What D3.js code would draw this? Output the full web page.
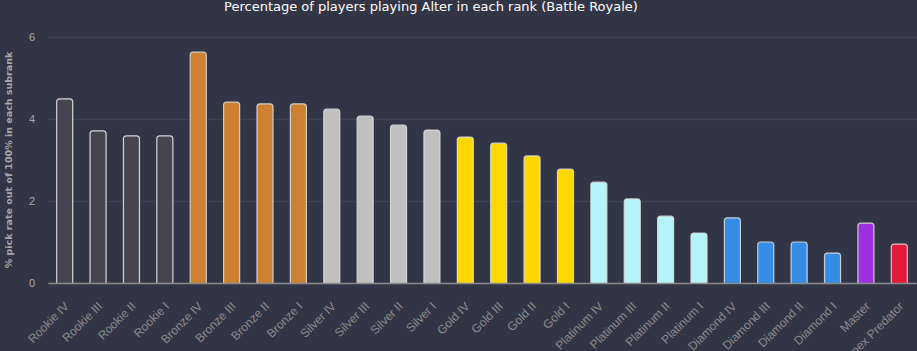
<!DOCTYPE html>
<html>
<head>
<meta charset="utf-8">
<script src="https://cdn.jsdelivr.net/npm/d3@7"></script>
<style>
  body { margin: 0; background: #323546; }
  svg { display: block; font-family: "DejaVu Sans", sans-serif; }
</style>
</head>
<body>
<svg width="917" height="351"></svg>
<script>
const ranks = ['Rookie IV','Rookie III','Rookie II','Rookie I',
  'Bronze IV','Bronze III','Bronze II','Bronze I',
  'Silver IV','Silver III','Silver II','Silver I',
  'Gold IV','Gold III','Gold II','Gold I',
  'Platinum IV','Platinum III','Platinum II','Platinum I',
  'Diamond IV','Diamond III','Diamond II','Diamond I',
  'Master','Apex Predator'];
const pickRate = [4.49, 3.71, 3.59, 3.59,
  5.63, 4.41, 4.37, 4.37,
  4.24, 4.07, 3.85, 3.73,
  3.56, 3.41, 3.10, 2.78,
  2.46, 2.05, 1.63, 1.22,
  1.59, 1.00, 1.00, 0.73,
  1.46, 0.95];
const tiers = ['Rookie','Bronze','Silver','Gold','Platinum','Diamond','Master','Apex'];
const tierColors = ['#46454f','#cd7f32','#c0c0c0','#ffd700','#b4f4f8','#358ce4','#9e30e0','#e31b3b'];
const yTicks = [0, 2, 4, 6];

const svg = d3.select('svg');
const width  = +svg.attr('width');
const height = +svg.attr('height');
const margin = {top: 37, right: 1, bottom: 68, left: 48};

const x = d3.scaleBand().domain(ranks).range([margin.left, width - margin.right])
  .paddingInner(0.52).paddingOuter(0.26);
const y = d3.scaleLinear().domain([0, 6]).range([height - margin.bottom, margin.top]);
const color = d3.scaleOrdinal().domain(tiers).range(tierColors);
const tierOf = r => r.startsWith('Apex') ? 'Apex' : r.split(' ')[0];

// title
svg.append('text')
  .attr('x', 431).attr('y', 11)
  .attr('text-anchor', 'middle')
  .attr('fill', '#ffffff')
  .style('font-size', '13px')
  .text('Percentage of players playing Alter in each rank (Battle Royale)');

// grid lines + y labels
const yAxis = svg.append('g')
  .attr('transform', `translate(${margin.left},0)`)
  .call(d3.axisLeft(y).tickValues(yTicks).tickFormat(d3.format('d'))
    .tickSize(-(width - margin.left)).tickPadding(13));
yAxis.select('.domain').remove();
yAxis.selectAll('.tick line').attr('stroke', '#3f4256').attr('stroke-width', 1.5);
yAxis.selectAll('.tick text').attr('fill', '#a8a8a8').style('font-size', '11px');

// y title
svg.append('text')
  .attr('transform', `translate(12,${(margin.top + height - margin.bottom) / 2}) rotate(-90)`)
  .attr('text-anchor', 'middle')
  .attr('fill', '#a8a8a8')
  .style('font-size', '9.5px')
  .style('font-weight', 'bold')
  .text('% pick rate out of 100% in each subrank');

// bars with rounded tops
const r = 3;
const barPath = d => {
  const x0 = x(d.rank), w = x.bandwidth(), y0 = y(0), y1 = y(d.value);
  return `M${x0},${y0}V${y1 + r}Q${x0},${y1} ${x0 + r},${y1}H${x0 + w - r}Q${x0 + w},${y1} ${x0 + w},${y1 + r}V${y0}`;
};
svg.append('g').selectAll('path')
  .data(ranks.map((rank, i) => ({rank, value: pickRate[i]})))
  .enter().append('path')
    .attr('d', barPath)
    .attr('fill', d => color(tierOf(d.rank)))
    .attr('stroke', d => tierOf(d.rank) === 'Rookie' ? '#f0f0f0' : '#e0e0e0')
    .attr('stroke-opacity', 0.85)
    .attr('stroke-width', 1.2);

// x axis
const xAxis = svg.append('g')
  .attr('transform', `translate(0,${y(0)})`)
  .call(d3.axisBottom(x).tickSize(0));
xAxis.select('.domain').attr('stroke', '#8a8a8a').attr('stroke-width', 1.5);
xAxis.selectAll('.tick text')
  .attr('fill', '#8c8c8c')
  .style('font-size', '12px')
  .attr('text-anchor', 'end')
  .attr('x', 0).attr('y', 0).attr('dy', 0)
  .attr('transform', 'translate(5,24) rotate(-45)');
</script>
</body>
</html>
